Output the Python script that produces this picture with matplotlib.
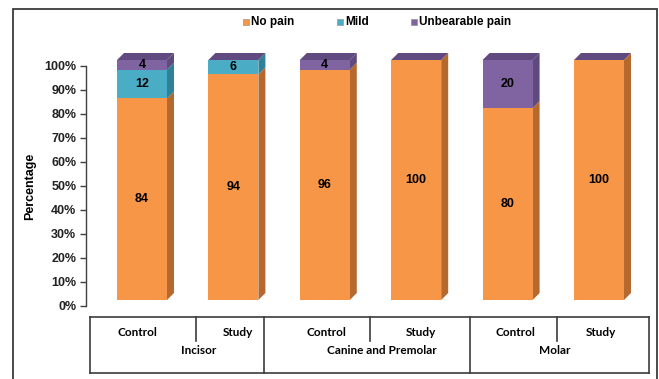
import matplotlib
matplotlib.use("Agg")
import matplotlib.pyplot as plt
from matplotlib.patches import Polygon, Rectangle
from matplotlib.lines import Line2D

# ---- data -------------------------------------------------------------
groups = ["Incisor", "Canine and Premolar", "Molar"]
arms = ["Control", "Study"]
series = ["No pain", "Mild", "Unbearable pain"]
no_pain = [84, 94, 96, 100, 80, 100]
mild = [12, 6, 0, 0, 0, 0]
unbearable = [4, 0, 4, 0, 20, 0]
y_ticks = [0, 10, 20, 30, 40, 50, 60, 70, 80, 90, 100]
y_tick_labels = [f"{t}%" for t in y_ticks]

# ---- styling ----------------------------------------------------------
front_colors = ["#F79646", "#4BACC6", "#8064A2"]
side_colors = ["#B5692F", "#2F8199", "#5E4A7C"]
top_color = "#604A7F"
frame_color = "#3C3C3C"
sans = ["Liberation Sans", "DejaVu Sans"]
table_font = ["Lato", "DejaVu Sans"]

W, H = 659, 379
fig = plt.figure(figsize=(W / 100, H / 100), dpi=100)


def fx(px):
    return px / W


def fy(py):
    return 1 - py / H


# outer frame
fig.add_artist(Rectangle((fx(13), fy(395)), fx(657) - fx(13), fy(9) - fy(395),
                         transform=fig.transFigure, fill=False,
                         edgecolor=frame_color, lw=1.3, clip_on=False))

# ---- bars -------------------------------------------------------------
step_px = 91.4          # distance between bar centres
first_px = 142          # centre of the first bar
base_px, top_px = 300, 60
xlim = (-0.6, 5.6)
ax = fig.add_axes([fx(first_px + xlim[0] * step_px), fy(base_px),
                   (xlim[1] - xlim[0]) * step_px / W, (base_px - top_px) / H])
ax.set_xlim(*xlim)
ax.set_ylim(0, 100)
ax.axis("off")

bar_w = 50 / step_px
depth_x = 7 / step_px
depth_y = 7 / ((base_px - top_px) / 100)

stacks = [no_pain, mild, unbearable]
n = len(no_pain)
for i in range(n):
    bottom = 0
    xl, xr = i - bar_w / 2, i + bar_w / 2
    for s, vals in enumerate(stacks):
        v = vals[i]
        if v <= 0:
            continue
        ax.bar(i, v, bottom=bottom, width=bar_w, color=front_colors[s],
               edgecolor="none", zorder=3)
        side = Polygon([(xr, bottom), (xr + depth_x, bottom + depth_y),
                        (xr + depth_x, bottom + v + depth_y), (xr, bottom + v)],
                       closed=True, facecolor=side_colors[s], edgecolor="none",
                       zorder=2, clip_on=False)
        ax.add_patch(side)
        ax.text(i, bottom + v / 2, str(v), ha="center", va="center",
                fontsize=9, fontweight="bold", family=sans, color="black",
                zorder=5)
        bottom += v
    top = Polygon([(xl, bottom), (xr, bottom), (xr + depth_x, bottom + depth_y),
                   (xl + depth_x, bottom + depth_y)], closed=True,
                  facecolor=top_color, edgecolor="none", zorder=2, clip_on=False)
    ax.add_patch(top)

# ---- value axis -------------------------------------------------------
ay = fig.add_axes([fx(86), fy(306), 0.02, (base_px - top_px) / H])
ay.set_ylim(0, 100)
ay.patch.set_visible(False)
for k in ("top", "right", "bottom"):
    ay.spines[k].set_visible(False)
ay.spines["left"].set_color("#404040")
ay.spines["left"].set_linewidth(1.0)
ay.set_xticks([])
ay.set_yticks(y_ticks)
ay.set_yticklabels(y_tick_labels)
ay.tick_params(axis="y", length=4, width=1, color="#404040", pad=3,
               labelsize=9)
for lab in ay.get_yticklabels():
    lab.set_fontweight("bold")
    lab.set_family(sans)
    lab.set_color("#222222")

fig.text(fx(30), fy(186), "Percentage", rotation=90, ha="center", va="center",
         fontsize=9, fontweight="bold", family=sans, color="black")

# ---- legend -----------------------------------------------------------
legend_y = 22
legend_items = [(243, series[0]), (337, series[1]), (411, series[2])]
for s, (lx, name) in enumerate(legend_items):
    fig.add_artist(Rectangle((fx(lx), fy(legend_y + 3)), 6 / W, 6 / H,
                             transform=fig.transFigure,
                             facecolor=front_colors[s], edgecolor="#888888",
                             lw=0.4))
    fig.text(fx(lx + 8), fy(legend_y), name, ha="left", va="center",
             fontsize=8.5, fontweight="bold", family=sans, color="black")

# ---- category table ---------------------------------------------------
t_top, t_mid, t_bot = 317, 341, 373
group_edges = [90, 264, 469.5, 649]
arm_dividers = [195.5, 370, 556.7]
arm_centres = [(137, 238), (326, 421), (515, 601)]
group_centres = [199, 382, 555]
row1_y, row2_y = 332, 350


def hline(y, x0, x1):
    fig.add_artist(Line2D([fx(x0), fx(x1)], [fy(y), fy(y)],
                          transform=fig.transFigure, color=frame_color, lw=1.2))


def vline(x, y0, y1):
    fig.add_artist(Line2D([fx(x), fx(x)], [fy(y0), fy(y1)],
                          transform=fig.transFigure, color=frame_color, lw=1.2))


hline(t_top, group_edges[0], group_edges[-1])
hline(t_bot, group_edges[0], group_edges[-1])
for x in group_edges:
    vline(x, t_top, t_bot)
for x in arm_dividers:
    vline(x, t_top, t_mid)

for g, name in enumerate(groups):
    for a, arm in enumerate(arms):
        fig.text(fx(arm_centres[g][a]), fy(row1_y), arm, ha="center",
                 va="center", fontsize=8.5, fontweight="bold",
                 family=table_font, color="black")
    fig.text(fx(group_centres[g]), fy(row2_y), name, ha="center", va="center",
             fontsize=8.5, fontweight="bold", family=table_font, color="black")

fig.savefig("out.png", dpi=100)
